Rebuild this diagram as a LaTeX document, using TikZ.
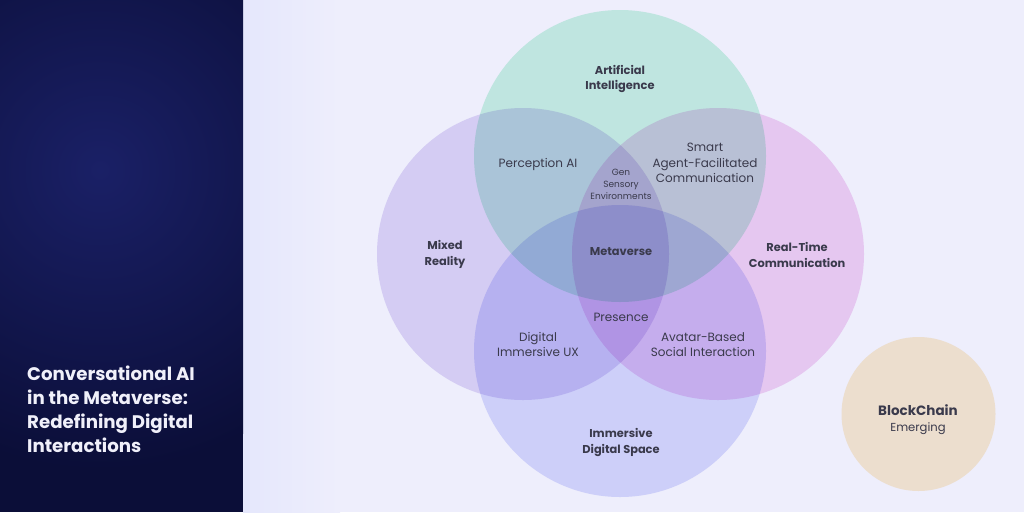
\documentclass[tikz,border=0pt]{standalone}
\usepackage{fontspec}
\setmainfont{Poppins}
\definecolor{bg}{RGB}{238,238,252}
\definecolor{navy}{RGB}{11,14,56}
\definecolor{navyglow}{RGB}{26,32,102}
\definecolor{glowbg}{RGB}{229,231,252}
\definecolor{cgreen}{RGB}{205,246,227}
\definecolor{cpurple}{RGB}{228,219,246}
\definecolor{cpink}{RGB}{246,214,243}
\definecolor{cblue}{RGB}{220,222,252}
\definecolor{cblock}{RGB}{236,222,206}
\definecolor{txt}{RGB}{58,58,76}
\definecolor{titlec}{RGB}{240,240,250}
\tikzset{
  venn/.style={blend mode=multiply},
  lbl/.style={text=txt, align=center, inner sep=0pt, font=\fontsize{12}{15.5}\selectfont},
  blbl/.style={lbl, font=\fontsize{11.4}{15.5}\selectfont\bfseries},
  slbl/.style={lbl, font=\fontsize{9}{12}\selectfont},
}
\begin{document}
\begin{tikzpicture}[x=1pt,y=-1pt]
\useasboundingbox (0,0) rectangle (1024,512);
% backgrounds
\fill[bg] (0,0) rectangle (1024,512);
\shade[left color=glowbg, right color=bg] (243,0) rectangle (340,512);
\fill[navy] (0,0) rectangle (243,512);
\begin{scope}
\clip (0,0) rectangle (243,512);
\shade[inner color=navyglow, outer color=navy] (100,170) circle (300);
\end{scope}
% title
\node[anchor=north west, text=titlec, align=left, inner sep=0pt,
      font=\fontsize{18.2}{24}\selectfont\bfseries] (title) at (27,366)
  {Conversational AI\\in the Metaverse:\\Redefining Digital\\Interactions};
% venn circles
\fill[venn, cgreen] (620,156) circle (146) coordinate (ai);
\fill[venn, cpurple] (523,254) circle (146) coordinate (mr);
\fill[venn, cpink] (718,254) circle (146) coordinate (rt);
\fill[venn, cblue] (620,351) circle (146) coordinate (ids);
\fill[cblock] (918.5,414) circle (77) coordinate (bc);
% labels
\node[blbl] (lai) at (620,79) {Artificial\\Intelligence};
\node[lbl] (lpa) at (538,164) {Perception AI};
\node[slbl] (lgen) at (621,184) {Gen\\Sensory\\Environments};
\node[lbl] (lsmart) at (705,163) {Smart\\Agent-Facilitated\\Communication};
\node[blbl] (lmr) at (445,254.5) {Mixed\\Reality};
\node[blbl] (lmeta) at (621,252) {Metaverse};
\node[blbl] (lrt) at (797,255) {Real-Time\\Communication};
\node[lbl] (lpres) at (621,317) {Presence};
\node[lbl] (ldux) at (538,344.5) {Digital\\Immersive UX};
\node[lbl] (lav) at (703,344.5) {Avatar-Based\\Social Interaction};
\node[blbl] (lids) at (621,442.5) {Immersive\\Digital Space};
\node[lbl, font=\fontsize{13.5}{16}\selectfont\bfseries] (lbc) at (918,410) {BlockChain};
\node[lbl, font=\fontsize{11.6}{14}\selectfont] (lem) at (918,429) {Emerging};
\end{tikzpicture}
\end{document}
